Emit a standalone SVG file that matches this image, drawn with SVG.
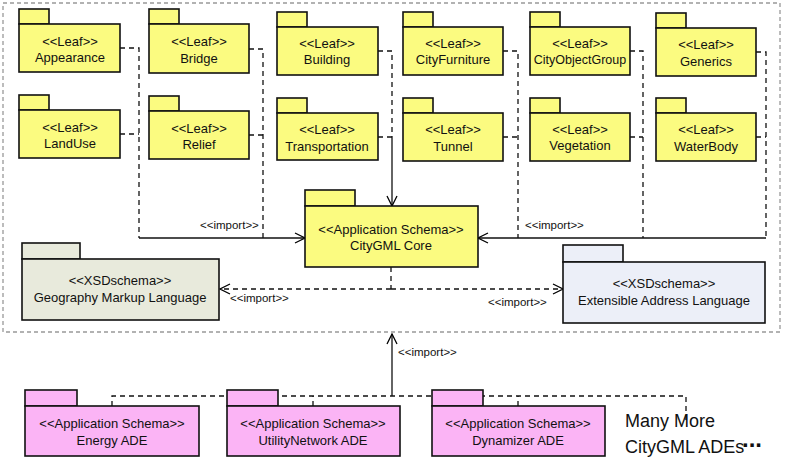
<svg xmlns="http://www.w3.org/2000/svg" width="785" height="469" viewBox="0 0 785 469">
<defs>
<marker id="ar" viewBox="0 0 12 12" refX="11" refY="6" markerWidth="12" markerHeight="12" markerUnits="userSpaceOnUse" orient="auto-start-reverse"><path d="M1,1 L11,6 L1,11" fill="none" stroke="#000" stroke-width="1.3"/></marker>
</defs>
<style>
.y{fill:#fbfb80;stroke:#111;stroke-width:1.6}
.g{fill:#e8eadc;stroke:#111;stroke-width:1.6}
.b{fill:#eceff8;stroke:#111;stroke-width:1.6}
.p{fill:#fbb4f5;stroke:#111;stroke-width:1.6}
text{font-family:"Liberation Sans",Arial,sans-serif;font-size:13px;text-anchor:middle;fill:#111}
.l{font-size:11.5px;text-anchor:start}
.d{fill:none;stroke:#111;stroke-width:1.3;stroke-dasharray:5,4}
.s{fill:none;stroke:#111;stroke-width:1.3}
</style>
<rect x="3" y="3" width="777" height="329" fill="none" stroke="#999" stroke-width="1.3" stroke-dasharray="4,3"/>
<g id="connectors">
<path class="d" d="M120,48H139V238M120,134H139M249,49H263V238M249,135H263"/>
<path class="s" d="M139,238H305" marker-end="url(#ar)"/>
<path class="d" d="M378,51H392V137M378,137H392"/>
<path class="s" d="M392,137V206" marker-end="url(#ar)"/>
<path class="d" d="M503,51H518V238M503,137H518M630,51H643V238M630,137H643M756,52H766V238M756,137H766"/>
<path class="s" d="M766,238H478" marker-end="url(#ar)"/>
<path class="d" d="M391,267V289"/>
<path class="d" d="M391,289H220" marker-end="url(#ar)"/>
<path class="d" d="M391,289H563" marker-end="url(#ar)"/>
<path class="s" d="M392,396V334" marker-end="url(#ar)"/>
<path class="d" d="M112,406V396H686V420M313,406V396M518,406V396"/>
<text class="l" x="200" y="229">&lt;&lt;import&gt;&gt;</text>
<text class="l" x="525" y="229">&lt;&lt;import&gt;&gt;</text>
<text class="l" x="230" y="302">&lt;&lt;import&gt;&gt;</text>
<text class="l" x="488" y="306">&lt;&lt;import&gt;&gt;</text>
<text class="l" x="398" y="356">&lt;&lt;import&gt;&gt;</text>
</g>
<g id="appearance"><rect class="y" x="19" y="9" width="30" height="15"/><rect class="y" x="19" y="24" width="101" height="48"/><text x="70" y="46">&lt;&lt;Leaf&gt;&gt;</text><text x="70" y="62">Appearance</text></g>
<g id="landuse"><rect class="y" x="19" y="95" width="30" height="15"/><rect class="y" x="19" y="110" width="101" height="48"/><text x="70" y="132">&lt;&lt;Leaf&gt;&gt;</text><text x="70" y="148">LandUse</text></g>
<g id="bridge"><rect class="y" x="149" y="9" width="30" height="15"/><rect class="y" x="149" y="24" width="100" height="49"/><text x="199" y="46">&lt;&lt;Leaf&gt;&gt;</text><text x="199" y="63">Bridge</text></g>
<g id="relief"><rect class="y" x="149" y="96" width="30" height="15"/><rect class="y" x="149" y="111" width="100" height="48"/><text x="199" y="133">&lt;&lt;Leaf&gt;&gt;</text><text x="199" y="149">Relief</text></g>
<g id="building"><rect class="y" x="277" y="12" width="30" height="15"/><rect class="y" x="277" y="27" width="101" height="48"/><text x="327" y="48">&lt;&lt;Leaf&gt;&gt;</text><text x="327" y="64">Building</text></g>
<g id="transportation"><rect class="y" x="277" y="98" width="30" height="15"/><rect class="y" x="277" y="113" width="101" height="47"/><text x="327" y="134">&lt;&lt;Leaf&gt;&gt;</text><text x="327" y="151">Transportation</text></g>
<g id="cityfurniture"><rect class="y" x="403" y="12" width="30" height="15"/><rect class="y" x="403" y="27" width="100" height="48"/><text x="453" y="48">&lt;&lt;Leaf&gt;&gt;</text><text x="453" y="64">CityFurniture</text></g>
<g id="tunnel"><rect class="y" x="403" y="98" width="30" height="15"/><rect class="y" x="403" y="113" width="100" height="48"/><text x="453" y="134">&lt;&lt;Leaf&gt;&gt;</text><text x="453" y="151">Tunnel</text></g>
<g id="cityobjectgroup"><rect class="y" x="530" y="12" width="30" height="15"/><rect class="y" x="530" y="27" width="100" height="48"/><text x="580" y="48">&lt;&lt;Leaf&gt;&gt;</text><text x="580" y="64" style="font-size:12.5px">CityObjectGroup</text></g>
<g id="vegetation"><rect class="y" x="530" y="98" width="30" height="15"/><rect class="y" x="530" y="113" width="100" height="48"/><text x="580" y="134">&lt;&lt;Leaf&gt;&gt;</text><text x="580" y="150">Vegetation</text></g>
<g id="generics"><rect class="y" x="656" y="13" width="30" height="15"/><rect class="y" x="656" y="28" width="100" height="48"/><text x="706" y="49">&lt;&lt;Leaf&gt;&gt;</text><text x="706" y="66">Generics</text></g>
<g id="waterbody"><rect class="y" x="656" y="98" width="30" height="15"/><rect class="y" x="656" y="113" width="100" height="48"/><text x="706" y="134">&lt;&lt;Leaf&gt;&gt;</text><text x="706" y="151">WaterBody</text></g>
<g id="core"><rect class="y" x="305" y="190" width="50" height="16"/><rect class="y" x="305" y="206" width="173" height="61"/><text x="391" y="234">&lt;&lt;Application Schema&gt;&gt;</text><text x="391" y="250">CityGML Core</text></g>
<g id="gml"><rect class="g" x="22" y="243" width="58" height="16"/><rect class="g" x="22" y="259" width="197" height="61"/><text x="120" y="285">&lt;&lt;XSDschema&gt;&gt;</text><text x="120" y="302">Geography Markup Language</text></g>
<g id="xal"><rect class="b" x="563" y="245" width="60" height="17"/><rect class="b" x="563" y="262" width="202" height="61"/><text x="664" y="288">&lt;&lt;XSDschema&gt;&gt;</text><text x="664" y="305">Extensible Address Language</text></g>
<g id="energy"><rect class="p" x="25" y="390" width="52" height="16"/><rect class="p" x="25" y="406" width="174" height="50"/><text x="112" y="428">&lt;&lt;Application Schema&gt;&gt;</text><text x="112" y="445">Energy ADE</text></g>
<g id="utility"><rect class="p" x="227" y="390" width="51" height="16"/><rect class="p" x="227" y="406" width="173" height="50"/><text x="313" y="428">&lt;&lt;Application Schema&gt;&gt;</text><text x="313" y="445">UtilityNetwork ADE</text></g>
<g id="dynamizer"><rect class="p" x="432" y="390" width="51" height="16"/><rect class="p" x="432" y="406" width="173" height="50"/><text x="518" y="428">&lt;&lt;Application Schema&gt;&gt;</text><text x="518" y="445">Dynamizer ADE</text></g>
<g id="more"><text x="625" y="427" style="font-size:18px;text-anchor:start">Many More</text><text x="625" y="453" style="font-size:18px;text-anchor:start">CityGML ADEs</text><text x="742" y="447" style="font-size:24px;font-weight:bold;text-anchor:start">...</text></g>
</svg>
